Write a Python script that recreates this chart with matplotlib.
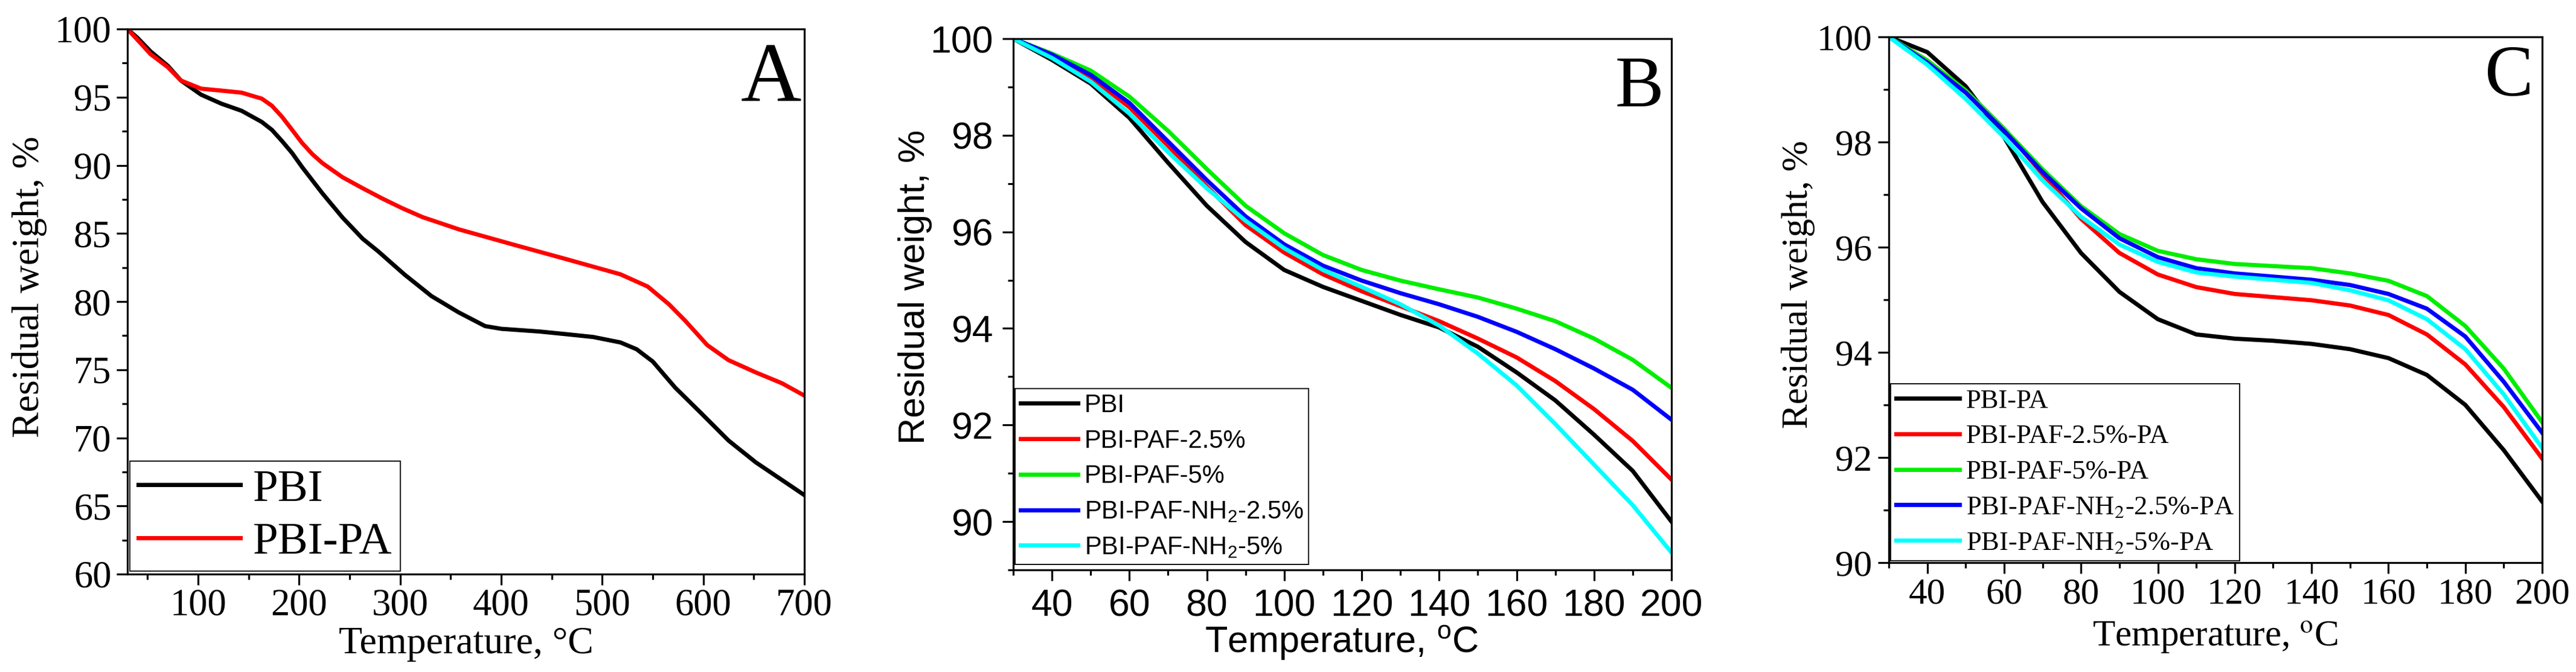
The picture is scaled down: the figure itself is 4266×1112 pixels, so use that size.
import matplotlib
matplotlib.use('Agg')
import matplotlib.pyplot as plt
from matplotlib.ticker import MultipleLocator
from matplotlib.font_manager import FontProperties

W, H, DPI = 4266, 1112, 100
plt.rcParams['mathtext.fontset'] = 'custom'
plt.rcParams['mathtext.rm'] = 'Liberation Sans'
plt.rcParams['mathtext.it'] = 'Liberation Sans:italic'
plt.rcParams['mathtext.bf'] = 'Liberation Sans:bold'

# ---------------- Panel A data ----------------
TA_PBI = [30, 40, 53, 70, 83, 103, 123, 143, 163, 173, 183, 193, 203, 223, 243, 263, 278,
          304, 331, 358, 384, 400, 438, 465, 491, 518, 534, 550, 572, 598, 625, 652, 678, 700]
WA_PBI = [100, 99.35, 98.35, 97.3, 96.22, 95.18, 94.52, 94.0, 93.18, 92.6, 91.78, 90.9,
          89.86, 87.94, 86.16, 84.6, 83.7, 82.0, 80.4, 79.2, 78.2, 78.0, 77.8, 77.6, 77.4,
          77.0, 76.5, 75.6, 73.7, 71.8, 69.8, 68.2, 66.9, 65.8]
TA_PA = [30, 40, 53, 70, 83, 103, 123, 143, 163, 173, 183, 193, 203, 213, 223, 243, 263,
         282, 302, 322, 358, 411, 465, 518, 545, 566, 582, 604, 625, 652, 678, 700]
WA_PA = [100, 99.2, 98.15, 97.2, 96.22, 95.62, 95.48, 95.33, 94.89, 94.37, 93.56, 92.6,
         91.63, 90.82, 90.16, 89.12, 88.31, 87.57, 86.85, 86.2, 85.3, 84.2, 83.1, 82.0,
         81.1, 79.8, 78.6, 76.8, 75.7, 74.8, 74.0, 73.1]
LABELS_A = ['PBI', 'PBI-PA']

# ---------------- Panel B / C data ----------------
T_BC = [30, 40, 50, 60, 70, 80, 90, 100, 110, 120, 130, 140, 150, 160, 170, 180, 190, 200]

B_PBI = [100, 99.56, 99.07, 98.36, 97.43, 96.54, 95.79, 95.21, 94.86, 94.57, 94.28, 94.02,
         93.62, 93.09, 92.51, 91.80, 91.05, 90.0]
B_PAF25 = [100, 99.65, 99.20, 98.58, 97.78, 96.94, 96.14, 95.57, 95.12, 94.77, 94.46, 94.15,
           93.79, 93.40, 92.91, 92.33, 91.67, 90.87]
B_PAF5 = [100, 99.69, 99.34, 98.80, 98.09, 97.30, 96.54, 95.97, 95.52, 95.21, 94.99, 94.81,
          94.64, 94.41, 94.15, 93.79, 93.35, 92.77]
B_NH25 = [100, 99.67, 99.25, 98.67, 97.87, 97.07, 96.32, 95.74, 95.30, 94.99, 94.73, 94.50,
          94.24, 93.93, 93.57, 93.17, 92.73, 92.11]
B_NH5 = [100, 99.60, 99.11, 98.45, 97.65, 96.90, 96.23, 95.66, 95.21, 94.86, 94.50, 94.06,
         93.48, 92.82, 92.02, 91.18, 90.34, 89.36]
LABELS_B = ['PBI', 'PBI-PAF-2.5%', 'PBI-PAF-5%', 'PBI-PAF-NH$_2$-2.5%', 'PBI-PAF-NH$_2$-5%']

C_PBI = [100, 99.71, 99.06, 98.09, 96.86, 95.89, 95.15, 94.63, 94.34, 94.26, 94.22, 94.16,
         94.06, 93.89, 93.57, 93.00, 92.14, 91.16]
C_PAF25 = [100, 99.55, 98.98, 98.25, 97.39, 96.54, 95.89, 95.48, 95.24, 95.11, 95.05, 94.99,
           94.89, 94.71, 94.34, 93.77, 92.96, 91.98]
C_PAF5 = [100, 99.55, 98.98, 98.25, 97.48, 96.78, 96.25, 95.93, 95.77, 95.68, 95.64, 95.60,
          95.50, 95.36, 95.07, 94.50, 93.69, 92.67]
C_NH25 = [100, 99.51, 98.94, 98.21, 97.43, 96.74, 96.17, 95.81, 95.60, 95.50, 95.44, 95.38,
          95.28, 95.11, 94.83, 94.30, 93.44, 92.47]
C_NH5 = [100, 99.47, 98.82, 98.09, 97.27, 96.58, 96.05, 95.72, 95.52, 95.44, 95.38, 95.32,
         95.18, 94.99, 94.63, 94.06, 93.20, 92.18]
LABELS_C = ['PBI-PA', 'PBI-PAF-2.5%-PA', 'PBI-PAF-5%-PA', 'PBI-PAF-NH$_2$-2.5%-PA',
            'PBI-PAF-NH$_2$-5%-PA']

COLORS = ['#000000', '#FF0000', '#00EE00', '#0000FF', '#00FFFF']

SERIF = 'Liberation Serif'
SANS = 'Liberation Sans'

fig = plt.figure(figsize=(W / DPI, H / DPI), dpi=DPI)


def px_axes(l, r, t, b):
    return fig.add_axes([l / W, 1 - b / H, (r - l) / W, (b - t) / H])


def style(ax, family, xmaj, xmin, ymaj, ymin, lsize, xpad, ypad):
    for s in ax.spines.values():
        s.set_linewidth(2.3)
    ax.xaxis.set_major_locator(MultipleLocator(xmaj))
    ax.xaxis.set_minor_locator(MultipleLocator(xmin))
    ax.yaxis.set_major_locator(MultipleLocator(ymaj))
    ax.yaxis.set_minor_locator(MultipleLocator(ymin))
    ax.tick_params(which='both', direction='out', top=False, right=False,
                   labelfontfamily=family, labelsize=lsize, width=2.3)
    ax.tick_params(which='major', length=13)
    ax.tick_params(which='minor', length=6.5)
    ax.tick_params(axis='x', which='major', pad=xpad)
    ax.tick_params(axis='y', which='major', pad=ypad)


def labels(ax, xlabel, ylabel, fp, xl_xy, yl_xy):
    ax.set_xlabel(xlabel, fontproperties=fp)
    ax.set_ylabel(ylabel, fontproperties=fp)
    ax.xaxis.label.set_va('center')
    ax.yaxis.label.set_va('center')
    ax.xaxis.set_label_coords(xl_xy[0] / W, 1 - xl_xy[1] / H, transform=fig.transFigure)
    ax.yaxis.set_label_coords(yl_xy[0] / W, 1 - yl_xy[1] / H, transform=fig.transFigure)


LW = 5.0

# ---------------- Panel A ----------------
axA = px_axes(211, 1332, 48, 950)
axA.plot(TA_PBI, WA_PBI, color=COLORS[0], lw=LW, label=LABELS_A[0])
axA.plot(TA_PA, WA_PA, color=COLORS[1], lw=LW, label=LABELS_A[1])
axA.set_xlim(30, 700)
axA.set_ylim(60, 100)
style(axA, SERIF, 100, 50, 5, 2.5, 45, 4, 6)
labels(axA, 'Temperature, °C', 'Residual weight, %',
       FontProperties(family=SERIF, size=46), (772, 1066), (49, 475))
legA = axA.legend(loc='lower left', bbox_to_anchor=(0.004, 0.005), borderaxespad=0,
                  prop=FontProperties(family=SERIF, size=54), handlelength=2.25,
                  handletextpad=0.28, labelspacing=0.25, borderpad=0.18,
                  fancybox=False, edgecolor='black', framealpha=1)
legA.get_frame().set_linewidth(1.3)
fig.text(1327 / W, 1 - 167 / H, 'A', fontfamily=SERIF, fontsize=100,
         ha='right', va='baseline')

# ---------------- Panel B ----------------
axB = px_axes(1678, 2768, 64, 943)
for w, c, lab in zip([B_PBI, B_PAF25, B_PAF5, B_NH25, B_NH5], COLORS, LABELS_B):
    axB.plot(T_BC, w, color=c, lw=LW, label=lab)
axB.set_xlim(30, 200)
axB.set_ylim(89, 100)
style(axB, SANS, 20, 10, 2, 1, 45, 9, 11)
labels(axB, 'Temperature, $^{\\rm o}$C', 'Residual weight, %',
       FontProperties(family=SANS, size=44, math_fontfamily='custom'), (2222, 1064),
       (1515, 475))
legB = axB.legend(loc='lower left', bbox_to_anchor=(0.003, 0.01), borderaxespad=0,
                  prop=FontProperties(family=SANS, size=30, math_fontfamily='custom'),
                  handlelength=2.3, handletextpad=0.25, labelspacing=0.45, borderpad=0.2,
                  fancybox=False, edgecolor='black', framealpha=1)
legB.get_frame().set_linewidth(1.3)
fig.text(2755 / W, 1 - 176 / H, 'B', fontfamily=SERIF, fontsize=87,
         ha='right', va='baseline')

# ---------------- Panel C ----------------
axC = px_axes(3128, 4210, 61, 931)
for w, c, lab in zip([C_PBI, C_PAF25, C_PAF5, C_NH25, C_NH5], COLORS, LABELS_C):
    axC.plot(T_BC, w, color=c, lw=LW, label=lab)
axC.set_xlim(30, 200)
axC.set_ylim(90, 100)
style(axC, SERIF, 20, 10, 2, 1, 44, 5, 7)
labels(axC, 'Temperature, $^{\\rm o}$C', 'Residual weight, %',
       FontProperties(family=SERIF, size=44, math_fontfamily='stix'), (3669, 1055),
       (2978, 471))
legC = axC.legend(loc='lower left', bbox_to_anchor=(0.003, 0.004), borderaxespad=0,
                  prop=FontProperties(family=SERIF, size=32, math_fontfamily='stix'),
                  handlelength=2.36, handletextpad=0.25, labelspacing=0.42, borderpad=0.2,
                  fancybox=False, edgecolor='black', framealpha=1)
legC.get_frame().set_linewidth(1.3)
fig.text(4196 / W, 1 - 158 / H, 'C', fontfamily=SERIF, fontsize=87,
         ha='right', va='baseline')

fig.savefig('out.png', dpi=DPI)
